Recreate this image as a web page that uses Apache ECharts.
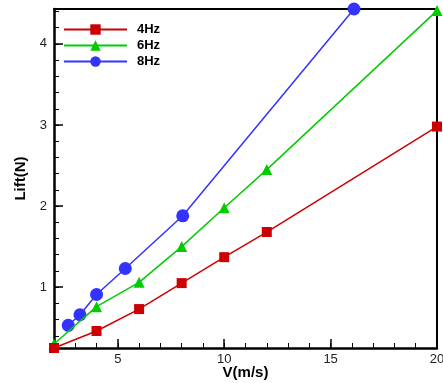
<!DOCTYPE html>
<html><head><meta charset="utf-8">
<script src="https://cdn.jsdelivr.net/npm/echarts@6/dist/echarts.min.js"></script>
<style>html,body{margin:0;padding:0;background:#fff}#c{width:443px;height:383px}</style>
</head><body><div id="c"></div>
<script>
const legendNames = ['4Hz', '6Hz', '8Hz'];
const v4 = [2, 4, 6, 8, 10, 12, 20];
const lift4 = [0.25, 0.46, 0.73, 1.05, 1.37, 1.68, 2.98];
const v6 = [2, 4, 6, 8, 10, 12, 20];
const lift6 = [0.3, 0.76, 1.06, 1.5, 1.98, 2.45, 4.41];
const v8 = [2.67, 3.22, 4.0, 5.35, 8.05, 16.1];
const lift8 = [0.53, 0.66, 0.91, 1.23, 1.88, 4.43];
const xTicks = [5, 10, 15, 20];
const yTicks = [1, 2, 3, 4];

const pairs = (xs, ys) => xs.map((x, i) => [x, ys[i]]);
const font = 'Liberation Sans, Arial, sans-serif';
const X0 = 2, X1 = 20, Y0 = 0.25, Y1 = 4.43;
// tick scales: hundredths of a unit along the y range, whole units along x
const yCats = [];
for (let k = Math.round(Y0 * 100); k <= Math.round(Y1 * 100); k++) yCats.push(String(k / 100));
const xCats = [];
for (let k = X0; k <= X1; k++) xCats.push(String(k));
const isYMajor = v => yTicks.includes(Number(v));
const isYMinor = v => Math.abs(Number(v) * 5 - Math.round(Number(v) * 5)) < 1e-6;
const isXMajor = v => xTicks.includes(Number(v));

const chart = echarts.init(document.getElementById('c'), null, {renderer: 'canvas'});
chart.setOption({
  animation: false,
  grid: {left: 54, right: 6, top: 9, bottom: 35, outerBoundsMode: 'none', containLabel: false},
  legend: {
    orient: 'vertical', left: 58, top: 18, itemWidth: 63, itemHeight: 13, itemGap: 3,
    data: legendNames,
    textStyle: {fontFamily: font, fontWeight: 'bold', fontSize: 13, color: '#000', padding: [0, 0, 0, 5]}
  },
  xAxis: [{
    type: 'value', min: X0, max: X1, show: false
  }, {
    type: 'category', data: xCats, boundaryGap: false, position: 'bottom',
    name: 'V(m/s)', nameLocation: 'middle', nameGap: 25, nameMoveOverlap: false,
    nameTextStyle: {fontFamily: font, fontWeight: 'bold', fontSize: 15, color: '#000', verticalAlign: 'middle'},
    axisLine: {show: true, onZero: false, lineStyle: {color: '#000', width: 2.5}},
    axisTick: {show: true, inside: true, length: 9, interval: (i, v) => isXMajor(v), lineStyle: {color: '#000', width: 1.5}},
    axisLabel: {fontFamily: font, fontSize: 13, color: '#222', margin: 5, interval: (i, v) => isXMajor(v), hideOverlap: false},
    splitLine: {show: false}
  }, {
    type: 'category', data: xCats, boundaryGap: false, position: 'bottom',
    axisLine: {show: false}, axisLabel: {show: false},
    axisTick: {show: true, inside: true, length: 5, interval: 0, lineStyle: {color: '#000', width: 1}},
    splitLine: {show: false}
  }, {
    type: 'value', min: X0, max: X1, position: 'top',
    axisLine: {show: true, onZero: false, lineStyle: {color: '#000', width: 2}},
    axisTick: {show: false}, axisLabel: {show: false}, splitLine: {show: false}
  }],
  yAxis: [{
    type: 'value', min: Y0, max: Y1, show: false
  }, {
    type: 'category', data: yCats, boundaryGap: false, position: 'left',
    name: 'Lift(N)', nameLocation: 'middle', nameGap: 26, nameRotate: 90, nameMoveOverlap: false,
    nameTextStyle: {fontFamily: font, fontWeight: 'bold', fontSize: 15, color: '#000'},
    axisLine: {show: true, onZero: false, lineStyle: {color: '#000', width: 2.5}},
    axisTick: {show: true, inside: true, length: 9, interval: (i, v) => isYMajor(v), lineStyle: {color: '#000', width: 1.5}},
    axisLabel: {fontFamily: font, fontSize: 13, color: '#222', margin: 7, interval: (i, v) => isYMajor(v)},
    splitLine: {show: false}
  }, {
    type: 'category', data: yCats, boundaryGap: false, position: 'left',
    axisLine: {show: false}, axisLabel: {show: false},
    axisTick: {show: true, inside: true, length: 5, interval: (i, v) => isYMinor(v), lineStyle: {color: '#000', width: 1}},
    splitLine: {show: false}
  }, {
    type: 'value', min: Y0, max: Y1, position: 'right',
    axisLine: {show: true, onZero: false, lineStyle: {color: '#000', width: 2}},
    axisTick: {show: false}, axisLabel: {show: false}, splitLine: {show: false}
  }],
  series: [
    {name: '8Hz', type: 'line', data: pairs(v8, lift8), xAxisIndex: 0, yAxisIndex: 0,
      symbol: 'circle', symbolSize: 13,
      itemStyle: {color: '#3333ff'}, lineStyle: {color: '#3333ff', width: 1.5}, clip: false, z: 2},
    {name: '6Hz', type: 'line', data: pairs(v6, lift6), xAxisIndex: 0, yAxisIndex: 0,
      symbol: 'triangle', symbolSize: 11,
      itemStyle: {color: '#00cc00'}, lineStyle: {color: '#00cc00', width: 1.5}, clip: false, z: 3},
    {name: '4Hz', type: 'line', data: pairs(v4, lift4), xAxisIndex: 0, yAxisIndex: 0,
      symbol: 'rect', symbolSize: 10,
      itemStyle: {color: '#cc0000'}, lineStyle: {color: '#cc0000', width: 1.5}, clip: false, z: 4}
  ]
});
</script></body></html>
